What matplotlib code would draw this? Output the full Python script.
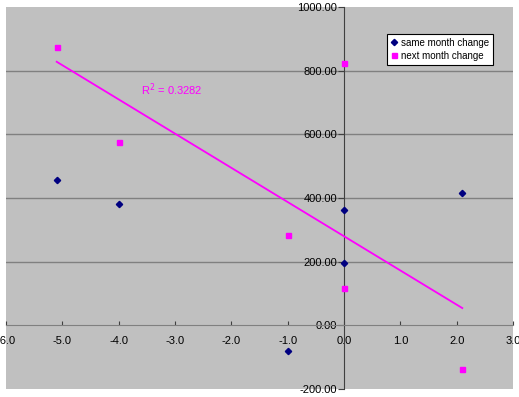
import numpy as np
import matplotlib
matplotlib.use("Agg")
import matplotlib.pyplot as plt

plt.rcParams['font.family'] = ['Liberation Sans', 'DejaVu Sans']

# change values (x) for both series
x_same = [-5.1, -4.0, -1.0, 0.0, 0.0, 2.1]
y_same = [457, 382, -80, 363, 196, 416]
x_next = [-5.1, -4.0, -1.0, 0.0, 0.0, 2.1]
y_next = [874, 577, 284, 823, 117, -136]

xticks = [-6, -5, -4, -3, -2, -1, 0, 1, 2, 3]
yticks = [-200, 0, 200, 400, 600, 800, 1000]

fig = plt.figure(figsize=(5.19, 3.97), dpi=100)
ax = fig.add_axes([6/519, 1 - 389/397, 507/519, 382/397])
ax.set_facecolor('#c0c0c0')
ax.set_xlim(-6, 3)
ax.set_ylim(-200, 1000)

for yv in [200, 400, 600, 800]:
    ax.axhline(yv, color='#808080', lw=1, zorder=1)

ax.spines['top'].set_visible(False)
ax.spines['right'].set_visible(False)
ax.spines['left'].set_position(('data', 0))
ax.spines['bottom'].set_position(('data', 0))
ax.spines['left'].set_color('#404040')
ax.spines['bottom'].set_color('#808080')
ax.spines['left'].set_zorder(2)

ax.set_xticks(xticks)
ax.set_xticklabels([f"{v:.1f}" for v in xticks])
ax.set_yticks(yticks)
ax.set_yticklabels([f"{v:.2f}" for v in yticks])
ax.tick_params(axis='x', direction='in', length=3, labelsize=8, pad=8, color='#404040')
ax.tick_params(axis='y', direction='out', length=4, labelsize=8, pad=1, color='#404040')

ax.plot(x_same, y_same, 'D', color='#000080', ms=3.2, ls='none',
        label='same month change', zorder=4)
ax.plot(x_next, y_next, 's', color='#ff00ff', ms=3.6, ls='none',
        label='next month change', zorder=4)

# linear trendline on next month change
k, b = np.polyfit(x_next, y_next, 1)
xs = np.array([min(x_next), max(x_next)])
ax.plot(xs, k * xs + b, color='#ff00ff', lw=1.3, zorder=3)

ax.text(-3.6, 740, r"R$^2$ = 0.3282", color='#ff00ff', fontsize=8,
        va='center', ha='left')

leg = ax.legend(loc='upper left', bbox_to_anchor=(381/507, 1 - 27/382),
                fontsize=7, frameon=True, fancybox=False, edgecolor='black',
                framealpha=1, handlelength=0.6, handletextpad=0.4,
                borderpad=0.4, labelspacing=0.3, borderaxespad=0)
leg.get_frame().set_linewidth(0.8)

fig.savefig('out.png', dpi=100)
